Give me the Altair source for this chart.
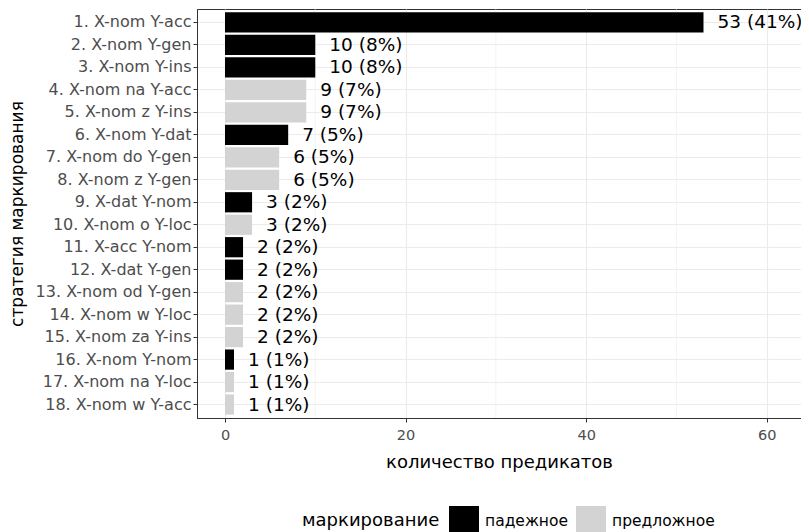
import altair as alt
import pandas as pd

strategies = [
    "1. X-nom Y-acc", "2. X-nom Y-gen", "3. X-nom Y-ins", "4. X-nom na Y-acc",
    "5. X-nom z Y-ins", "6. X-nom Y-dat", "7. X-nom do Y-gen", "8. X-nom z Y-gen",
    "9. X-dat Y-nom", "10. X-nom o Y-loc", "11. X-acc Y-nom", "12. X-dat Y-gen",
    "13. X-nom od Y-gen", "14. X-nom w Y-loc", "15. X-nom za Y-ins",
    "16. X-nom Y-nom", "17. X-nom na Y-loc", "18. X-nom w Y-acc",
]
counts = [53, 10, 10, 9, 9, 7, 6, 6, 3, 3, 2, 2, 2, 2, 2, 1, 1, 1]
marking = [
    "падежное", "падежное", "падежное", "предложное", "предложное", "падежное",
    "предложное", "предложное", "падежное", "предложное", "падежное", "падежное",
    "предложное", "предложное", "предложное", "падежное", "предложное", "предложное",
]
labels = ["53 (41%)", "10 (8%)", "10 (8%)", "9 (7%)", "9 (7%)", "7 (5%)", "6 (5%)",
          "6 (5%)", "3 (2%)", "3 (2%)", "2 (2%)", "2 (2%)", "2 (2%)", "2 (2%)",
          "2 (2%)", "1 (1%)", "1 (1%)", "1 (1%)"]
minor_breaks = [10, 30, 50]
major_breaks = [0, 20, 40, 60]
categories = ["падежное", "предложное"]
colors = ["#000000", "#d3d3d3"]

df = pd.DataFrame({"strategy": strategies, "count": counts,
                   "marking": marking, "label": labels})
minor_df = pd.DataFrame({"v": minor_breaks})

xscale = alt.Scale(domain=[-3.1, 63.8], nice=False, zero=False)
yscale = alt.Scale(domain=strategies, paddingInner=0.1, paddingOuter=0.15)

x_enc = alt.X("count:Q", scale=xscale, title="количество предикатов",
              axis=alt.Axis(values=major_breaks, grid=True, gridColor="#ebebeb",
                            gridWidth=1.1, tickColor="#333333", tickSize=4,
                            domainColor="#333333", labelColor="#4d4d4d",
                            labelFontSize=14.5, labelPadding=6, titleFontSize=18,
                            titleColor="#000000", titleFontWeight="normal",
                            titlePadding=12))
y_enc = alt.Y("strategy:N", scale=yscale, title="стратегия маркирования",
              axis=alt.Axis(grid=True, gridColor="#ebebeb", gridWidth=1.1,
                            bandPosition=0.5, tickBand="center",
                            tickColor="#333333", tickSize=4, domainColor="#333333",
                            labelColor="#4d4d4d", labelFontSize=16, labelPadding=2,
                            titleFontSize=17, titleColor="#000000",
                            titleFontWeight="normal", titlePadding=9))

minor = alt.Chart(minor_df).mark_rule(color="#ebebeb", strokeWidth=0.6).encode(
    x=alt.X("v:Q", scale=xscale)
)

bars = alt.Chart(df).mark_bar().encode(
    x=x_enc,
    y=y_enc,
    color=alt.Color("marking:N", scale=alt.Scale(domain=categories, range=colors),
                    title="маркирование",
                    legend=alt.Legend(orient="none", legendX=105, legendY=497,
                                      direction="horizontal", titleOrient="left",
                                      symbolType="square", symbolSize=900,
                                      symbolStrokeWidth=0, labelFontSize=15.5,
                                      labelColor="#000000", titleFontSize=18,
                                      titleColor="#000000", titleFontWeight="normal",
                                      titlePadding=9, labelOffset=6, columnPadding=7,
                                      columns=2)),
)

text = alt.Chart(df).mark_text(align="left", baseline="middle", dx=14,
                               fontSize=18.5, color="#000000").encode(
    x=alt.X("count:Q", scale=xscale),
    y=alt.Y("strategy:N", scale=yscale),
    text="label:N",
)

chart = alt.layer(minor, bars, text).properties(
    width=604, height=409,
    autosize=alt.AutoSizeParams(type="none"),
    padding={"left": 189, "top": 1, "right": 0, "bottom": 114},
).configure(font="DejaVu Sans").configure_view(stroke="#333333", strokeWidth=1)

chart.save("out.html", embed_options={"renderer": "svg", "actions": False})
